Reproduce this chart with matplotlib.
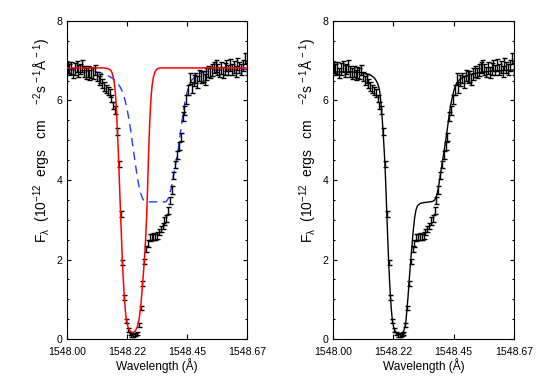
import matplotlib
matplotlib.use("Agg")
import matplotlib.pyplot as plt
from matplotlib.ticker import MultipleLocator, FixedLocator, NullLocator
import numpy as np

plt.rcParams['font.family'] = ['Liberation Sans', 'DejaVu Sans']
plt.rcParams['mathtext.fontset'] = 'custom'
plt.rcParams['mathtext.rm'] = 'Liberation Sans'
plt.rcParams['mathtext.it'] = 'Liberation Sans'

# observed spectrum (wavelength in A, flux in 1e-12 ergs/cm2/s/A)
wave = [1548.0020, 1548.0088, 1548.0156, 1548.0224, 1548.0292, 1548.0360, 1548.0428, 1548.0496, 1548.0564, 1548.0632,
        1548.0700, 1548.0768, 1548.0836, 1548.0904, 1548.0972, 1548.1040, 1548.1108, 1548.1176, 1548.1244, 1548.1312,
        1548.1380, 1548.1448, 1548.1516, 1548.1584, 1548.1652, 1548.1720, 1548.1788, 1548.1856, 1548.1924, 1548.1992,
        1548.2060, 1548.2128, 1548.2196, 1548.2264, 1548.2332, 1548.2400, 1548.2468, 1548.2536, 1548.2604, 1548.2672,
        1548.2740, 1548.2808, 1548.2876, 1548.2944, 1548.3012, 1548.3080, 1548.3148, 1548.3216, 1548.3284, 1548.3352,
        1548.3420, 1548.3488, 1548.3556, 1548.3624, 1548.3692, 1548.3760, 1548.3828, 1548.3896, 1548.3964, 1548.4032,
        1548.4100, 1548.4168, 1548.4236, 1548.4304, 1548.4372, 1548.4440, 1548.4508, 1548.4576, 1548.4644, 1548.4712,
        1548.4780, 1548.4848, 1548.4916, 1548.4984, 1548.5052, 1548.5120, 1548.5188, 1548.5256, 1548.5324, 1548.5392,
        1548.5460, 1548.5528, 1548.5596, 1548.5664, 1548.5732, 1548.5800, 1548.5868, 1548.5936, 1548.6004, 1548.6072,
        1548.6140, 1548.6208, 1548.6276, 1548.6344, 1548.6412, 1548.6480, 1548.6548, 1548.6616, 1548.6684]
flux = [6.83, 6.78, 6.82, 6.70, 6.80, 6.86, 6.74, 6.79, 6.87, 6.72,
        6.68, 6.73, 6.64, 6.71, 6.68, 6.76, 6.60, 6.50, 6.55, 6.42,
        6.36, 6.30, 6.24, 6.18, 6.05, 5.88, 5.76, 5.22, 4.40, 3.15,
        1.92, 1.05, 0.45, 0.22, 0.14, 0.10, 0.09, 0.11, 0.14, 0.34,
        0.79, 1.40, 1.95, 2.27, 2.40, 2.55, 2.57, 2.58, 2.57, 2.60,
        2.69, 2.77, 2.85, 2.97, 3.04, 3.23, 3.48, 3.75, 4.12, 4.38,
        4.63, 4.85, 5.08, 5.60, 5.74, 6.03, 6.27, 6.55, 6.32, 6.50,
        6.56, 6.46, 6.62, 6.58, 6.60, 6.52, 6.66, 6.72, 6.70, 6.76,
        6.84, 6.86, 6.78, 6.72, 6.82, 6.70, 6.80, 6.88, 6.76, 6.90,
        6.78, 6.84, 6.74, 6.92, 6.82, 6.78, 6.88, 7.06, 6.80]
err = [0.15, 0.14, 0.16, 0.13, 0.15, 0.14, 0.15, 0.13, 0.15, 0.14,
       0.14, 0.15, 0.13, 0.14, 0.15, 0.13, 0.12, 0.12, 0.12, 0.11,
       0.11, 0.10, 0.10, 0.10, 0.09, 0.09, 0.09, 0.09, 0.08, 0.08,
       0.07, 0.06, 0.05, 0.05, 0.04, 0.04, 0.04, 0.04, 0.04, 0.05,
       0.05, 0.06, 0.07, 0.07, 0.08, 0.08, 0.08, 0.08, 0.08, 0.08,
       0.08, 0.08, 0.08, 0.09, 0.09, 0.09, 0.09, 0.09, 0.09, 0.09,
       0.10, 0.10, 0.10, 0.11, 0.11, 0.12, 0.12, 0.13, 0.14, 0.14,
       0.13, 0.15, 0.14, 0.15, 0.13, 0.14, 0.15, 0.14, 0.13, 0.15,
       0.14, 0.15, 0.14, 0.13, 0.15, 0.14, 0.15, 0.14, 0.13, 0.15,
       0.14, 0.15, 0.14, 0.15, 0.14, 0.13, 0.15, 0.14, 0.15]

# single-component model (red, left panel)
red_wave = [1548.0000, 1548.1377, 1548.1526, 1548.1619, 1548.1675, 1548.1723, 1548.1768, 1548.1805, 1548.1842,
            1548.1879, 1548.1917, 1548.1954, 1548.1991, 1548.2028, 1548.2062, 1548.2095, 1548.2129, 1548.2162,
            1548.2196, 1548.2270, 1548.2345, 1548.2438, 1548.2531, 1548.2616, 1548.2680, 1548.2743, 1548.2810,
            1548.2877, 1548.2921, 1548.2966, 1548.3000, 1548.3029, 1548.3059, 1548.3089, 1548.3126, 1548.3163,
            1548.3212, 1548.3275, 1548.3349, 1548.3461, 1548.6700]
red_flux = [6.82, 6.82, 6.80, 6.77, 6.70, 6.58, 6.40, 6.15, 5.75,
            5.20, 4.60, 3.90, 3.20, 2.55, 1.95, 1.50, 1.10, 0.80,
            0.55, 0.30, 0.20, 0.16, 0.19, 0.30, 0.48, 0.80, 1.35,
            1.95, 2.45, 3.10, 3.80, 4.50, 5.10, 5.60, 6.05, 6.35,
            6.57, 6.72, 6.79, 6.82, 6.82]

# second component (blue dashed, left panel)
blue_wave = [1548.0000, 1548.0856, 1548.1228, 1548.1414, 1548.1600, 1548.1749, 1548.1861, 1548.1972, 1548.2065,
             1548.2159, 1548.2233, 1548.2307, 1548.2382, 1548.2456, 1548.2531, 1548.2605, 1548.2680, 1548.2754,
             1548.2828, 1548.2903, 1548.2977, 1548.3684, 1548.3759, 1548.3833, 1548.3896, 1548.3956, 1548.4038,
             1548.4120, 1548.4205, 1548.4306, 1548.4391, 1548.4466, 1548.4540, 1548.4652, 1548.4801, 1548.5024,
             1548.5396, 1548.6700]
blue_flux = [6.78, 6.74, 6.70, 6.66, 6.60, 6.53, 6.45, 6.35, 6.22,
             6.01, 5.80, 5.52, 5.20, 4.82, 4.48, 4.12, 3.84, 3.64,
             3.51, 3.46, 3.45, 3.45, 3.52, 3.68, 3.84, 4.08, 4.38,
             4.66, 5.10, 5.60, 5.98, 6.20, 6.38, 6.52, 6.62, 6.70,
             6.76, 6.78]

# combined model (black, right panel)
black_wave = [1548.0000, 1548.0670, 1548.1042, 1548.1265, 1548.1414, 1548.1526, 1548.1600, 1548.1656, 1548.1712,
              1548.1749, 1548.1786, 1548.1824, 1548.1857, 1548.1891, 1548.1924, 1548.1958, 1548.1991, 1548.2028,
              1548.2062, 1548.2095, 1548.2129, 1548.2162, 1548.2196, 1548.2244, 1548.2307, 1548.2382, 1548.2456,
              1548.2531, 1548.2605, 1548.2672, 1548.2709, 1548.2739, 1548.2776, 1548.2810, 1548.2843, 1548.2877,
              1548.2910, 1548.2944, 1548.2981, 1548.3022, 1548.3070, 1548.3126, 1548.3219, 1548.3349, 1548.3573,
              1548.3684, 1548.3759, 1548.3833, 1548.3896, 1548.3963, 1548.4030, 1548.4101, 1548.4168, 1548.4235,
              1548.4298, 1548.4354, 1548.4410, 1548.4485, 1548.4578, 1548.4689, 1548.4875, 1548.5099, 1548.5471,
              1548.5880, 1548.6700]
black_flux = [6.72, 6.72, 6.70, 6.67, 6.63, 6.57, 6.50, 6.42, 6.30,
              6.12, 5.85, 5.52, 5.18, 4.80, 4.38, 3.80, 3.18, 2.50,
              1.92, 1.45, 1.05, 0.72, 0.48, 0.30, 0.18, 0.13, 0.12,
              0.14, 0.18, 0.32, 0.52, 0.76, 1.05, 1.38, 1.68, 1.96,
              2.25, 2.52, 2.80, 3.05, 3.24, 3.35, 3.41, 3.43, 3.45,
              3.46, 3.49, 3.60, 3.78, 4.08, 4.38, 4.68, 4.98, 5.30,
              5.62, 5.88, 6.06, 6.28, 6.43, 6.53, 6.61, 6.66, 6.71,
              6.74, 6.77]

xticks = [1548.00, 1548.2233, 1548.4467, 1548.67]
xticklabels = ['1548.00', '1548.22', '1548.45', '1548.67']
ylabel = r'F$_\lambda$  (10$^{-12}$  ergs   cm    $^{-2}$s$^{\,-1}$Å$^{\,-1}$)'

fig = plt.figure(figsize=(5.45, 3.82), dpi=100)
ax1 = fig.add_axes([67 / 545, 1 - 339 / 382, 180 / 545, 318 / 382])
ax2 = fig.add_axes([333 / 545, 1 - 339 / 382, 181 / 545, 318 / 382])


def setup(ax):
    ax.errorbar(wave, flux, yerr=err, fmt='none', ecolor='black', elinewidth=1.0,
                capsize=1.8, capthick=1.0, zorder=3)
    ax.set_xlim(1548.00, 1548.67)
    ax.set_ylim(0, 8)
    ax.xaxis.set_major_locator(FixedLocator(xticks))
    ax.set_xticklabels(xticklabels)
    ax.xaxis.set_minor_locator(NullLocator())
    ax.yaxis.set_major_locator(MultipleLocator(2))
    ax.yaxis.set_minor_locator(MultipleLocator(0.5))
    ax.tick_params(which='both', direction='in', top=True, right=True, labelsize=7.6, width=0.8)
    ax.tick_params(axis='x', which='major', length=3.8, pad=5.5)
    ax.tick_params(axis='y', which='major', length=2.9, pad=3.5)
    ax.tick_params(axis='y', which='minor', length=1.6)
    for s in ax.spines.values():
        s.set_linewidth(0.8)
    ax.set_xlabel('Wavelength (Å)', fontsize=8.6, labelpad=1.0)
    ax.set_ylabel(ylabel, fontsize=10.0)
    ax.yaxis.set_label_coords(-0.075, 0.623)


setup(ax1)
ax1.plot(red_wave, red_flux, color='#ff0000', lw=1.1, zorder=4)
ax1.plot(blue_wave, blue_flux, color='#1e3cff', lw=1.0, dashes=(6, 4), zorder=2)

setup(ax2)
ax2.plot(black_wave, black_flux, color='black', lw=1.0, zorder=4)

fig.savefig('out.png', dpi=100)
